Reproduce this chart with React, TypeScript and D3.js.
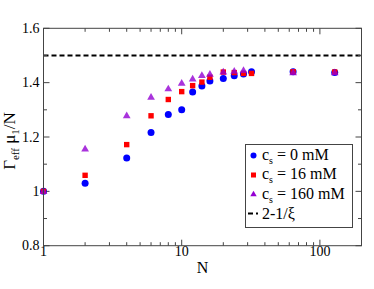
import React from 'react';
import * as d3 from 'd3';

// chain lengths
const nValues = [1, 2, 4, 6, 8, 10, 12, 14, 16, 20, 24, 28, 32, 64, 128];
// c_s = 0 mM
const cs0 = [1.0, 1.03, 1.123, 1.217, 1.283, 1.3, 1.366, 1.388, 1.406, 1.415, 1.425, 1.432, 1.44, 1.44, 1.437];
// c_s = 16 mM
const cs16 = [1.0, 1.059, 1.172, 1.278, 1.338, 1.367, 1.389, 1.402, 1.42, 1.439, 1.437, 1.434, 1.434, 1.44, 1.439];
// c_s = 160 mM (no point at N = 32)
const nTri = [1, 2, 4, 6, 8, 10, 12, 14, 16, 20, 24, 28, 64, 128];
const cs160 = [1.0, 1.157, 1.279, 1.347, 1.378, 1.399, 1.414, 1.427, 1.432, 1.44, 1.443, 1.446, 1.437, 1.437];

const limitValue = 1.5;
const yMajor = [0.8, 1.0, 1.2, 1.4, 1.6];
const yMinor = [0.9, 1.1, 1.3, 1.5];
const xMajor = [1, 10, 100];
const legendLabels = ['0 mM', '16 mM', '160 mM'];

const W = 374;
const H = 289;
const left = 43.5, right = 361.5, top = 28.3, bottom = 245.7;
const font = '"Liberation Serif", "Times New Roman", serif';

const BLUE = '#0000ff';
const RED = '#ff0000';
const VIOLET = '#9400d3';

export default function App() {
  const x = d3.scaleLog().domain([1, 200]).range([left, right]);
  const y = d3.scaleLinear().domain([0.8, 1.6]).range([bottom, top]);

  const xTicks = x.ticks().filter(v => v > 1 && v < 200);
  const tri = d3.symbol().type(d3.symbolTriangle).size(26)();
  const triLeg = d3.symbol().type(d3.symbolTriangle).size(18)();

  const fmt = (v: number) => (v === 1 ? '1' : d3.format('.1f')(v));

  return (
    <svg width={W} height={H} style={{ position: 'absolute', left: 0, top: 0, background: '#fff' }}>
      {/* dashed limit line */}
      <line x1={left} x2={right} y1={y(limitValue)} y2={y(limitValue)}
        stroke="#000" strokeWidth={2} strokeDasharray="5,3" />

      {/* ticks, inward on all four sides */}
      <g stroke="#444" strokeWidth={1}>
        {xTicks.map(v => {
          const len = xMajor.includes(v) ? 6 : 3.5;
          return (
            <g key={'xt' + v}>
              <line x1={x(v)} x2={x(v)} y1={bottom} y2={bottom - len} />
              <line x1={x(v)} x2={x(v)} y1={top} y2={top + len} />
            </g>
          );
        })}
        {yMajor.concat(yMinor).map(v => {
          const len = yMajor.includes(v) ? 6 : 3.5;
          return (
            <g key={'yt' + v}>
              <line x1={left} x2={left + len} y1={y(v)} y2={y(v)} />
              <line x1={right} x2={right - len} y1={y(v)} y2={y(v)} />
            </g>
          );
        })}
      </g>

      {/* markers */}
      {nValues.map((n, i) => (
        <circle key={'c' + n} cx={x(n)} cy={y(cs0[i])} r={3.5} fill={BLUE} />
      ))}
      {nValues.map((n, i) => (
        <rect key={'s' + n} x={x(n) - 2.7} y={y(cs16[i]) - 2.7} width={5.4} height={5.4} fill={RED} />
      ))}
      {nTri.map((n, i) => (
        <path key={'t' + n} d={tri} transform={`translate(${x(n)},${y(cs160[i]) + 0.5})`} fill={VIOLET} opacity={0.8} />
      ))}

      {/* frame */}
      <rect x={left} y={top} width={right - left} height={bottom - top} fill="none" stroke="#444" strokeWidth={1} />

      {/* tick labels */}
      <g fontFamily={font} fontSize={14} fill="#000">
        {yMajor.map(v => (
          <text key={'yl' + v} x={left - 4} y={y(v)} textAnchor="end" dominantBaseline="central">{fmt(v)}</text>
        ))}
        {xMajor.map(v => (
          <text key={'xl' + v} x={x(v)} y={256} textAnchor="middle">{v}</text>
        ))}
      </g>

      {/* axis titles */}
      <text x={(left + right) / 2} y={273} textAnchor="middle" fontFamily={font} fontSize={16}>N</text>
      <text transform={`translate(15,${(top + bottom) / 2 + 4}) rotate(-90)`} textAnchor="middle" fontFamily={font} fontSize={17}>
        Γ<tspan fontSize={11} dy={4}>eff</tspan><tspan dy={-4}> μ</tspan><tspan fontSize={11} dy={4}>1</tspan><tspan dy={-4}>/N</tspan>
      </text>

      {/* legend */}
      <g fontFamily={font} fontSize={16}>
        <rect x={245.5} y={144.5} width={107} height={83} fill="#fff" stroke="#444" strokeWidth={1} />
        <circle cx={253.5} cy={155.5} r={3} fill={BLUE} />
        <rect x={251} y={172.5} width={5} height={5} fill={RED} />
        <path d={triLeg} transform="translate(253.5,194.5)" fill={VIOLET} />
        <line x1={248} x2={258} y1={213.5} y2={213.5} stroke="#000" strokeWidth={2} strokeDasharray="5,3" />
        {legendLabels.map((lab, i) => (
          <text key={lab} x={262} y={160 + i * 19.4}>
            c<tspan fontSize={10} dy={4}>s</tspan><tspan dy={-4}> = {lab}</tspan>
          </text>
        ))}
        <text x={262} y={218.5}>2-1/ξ</text>
      </g>
    </svg>
  );
}
